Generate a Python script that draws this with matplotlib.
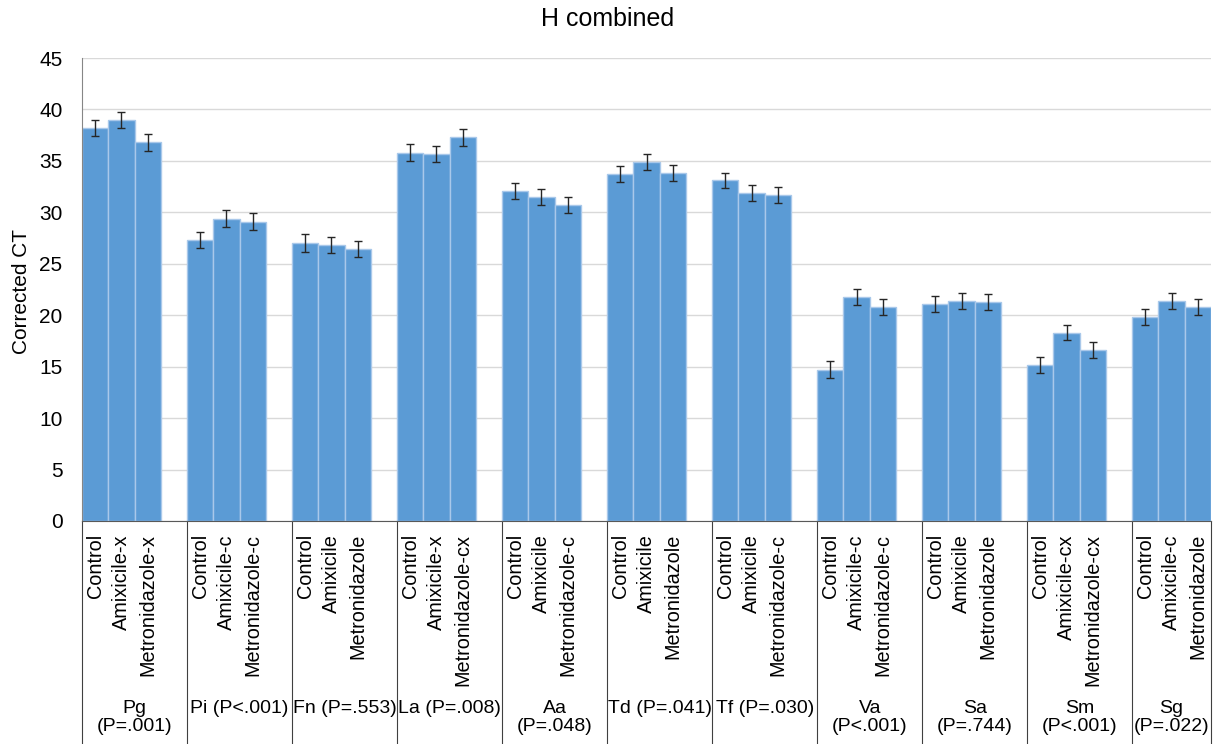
import matplotlib.pyplot as plt
import matplotlib.transforms as mtransforms
from matplotlib.lines import Line2D

plt.rcParams['font.family'] = ['Liberation Sans', 'DejaVu Sans']

# bacteria groups with their P values
groups = ["Pg\n(P=.001)", "Pi (P<.001)", "Fn (P=.553)", "La (P=.008)", "Aa\n(P=.048)",
          "Td (P=.041)", "Tf (P=.030)", "Va\n(P<.001)", "Sa\n(P=.744)", "Sm\n(P<.001)",
          "Sg\n(P=.022)"]

treatments = [
    ["Control", "Amixicile-x", "Metronidazole-x"],
    ["Control", "Amixicile-c", "Metronidazole-c"],
    ["Control", "Amixicile", "Metronidazole"],
    ["Control", "Amixicile-x", "Metronidazole-cx"],
    ["Control", "Amixicile", "Metronidazole-c"],
    ["Control", "Amixicile", "Metronidazole"],
    ["Control", "Amixicile", "Metronidazole-c"],
    ["Control", "Amixicile-c", "Metronidazole-c"],
    ["Control", "Amixicile", "Metronidazole"],
    ["Control", "Amixicile-cx", "Metronidazole-cx"],
    ["Control", "Amixicile-c", "Metronidazole"],
]

ct_values = [
    [38.2, 39.0, 36.8],
    [27.3, 29.4, 29.1],
    [27.0, 26.8, 26.4],
    [35.8, 35.7, 37.3],
    [32.1, 31.5, 30.7],
    [33.7, 34.9, 33.8],
    [33.1, 31.9, 31.7],
    [14.7, 21.8, 20.8],
    [21.1, 21.4, 21.3],
    [15.2, 18.3, 16.6],
    [19.8, 21.4, 20.8],
]

ct_err = [
    [0.75, 0.80, 0.80],
    [0.80, 0.78, 0.80],
    [0.85, 0.80, 0.78],
    [0.82, 0.78, 0.82],
    [0.78, 0.80, 0.80],
    [0.80, 0.78, 0.80],
    [0.76, 0.78, 0.80],
    [0.82, 0.76, 0.76],
    [0.76, 0.80, 0.80],
    [0.78, 0.75, 0.78],
    [0.78, 0.80, 0.78],
]

fig = plt.figure(figsize=(12.21, 7.44), dpi=100)
ax = fig.add_axes([82 / 1221, 223 / 744, 1129 / 1221, 463 / 744])

xs, hs, es, labels = [], [], [], []
for i in range(len(groups)):
    for j in range(3):
        xs.append(4 * i + j + 0.5)
        hs.append(ct_values[i][j])
        es.append(ct_err[i][j])
        labels.append(treatments[i][j])

ax.bar(xs, hs, width=1.0, color='#5b9bd5', edgecolor='#a9c8ea', linewidth=1, zorder=2)
ax.errorbar(xs, hs, yerr=es, fmt='none', ecolor='#262626', elinewidth=1,
            capsize=3.2, capthick=1, zorder=3)

ax.set_xlim(0, 43)
ax.set_ylim(0, 45)
ax.set_yticks(range(0, 46, 5))
ax.set_xticks([])
ax.tick_params(axis='y', length=0, pad=14, labelsize=15)
ax.yaxis.grid(True, color='#d9d9d9', linewidth=1, zorder=0)
ax.set_axisbelow(True)
for s in ['top', 'right']:
    ax.spines[s].set_visible(False)
ax.spines['left'].set_color('#868686')
ax.spines['bottom'].set_color('#595959')

# two-level category axis below the plot
tr = mtransforms.blended_transform_factory(ax.transData, fig.transFigure)
for x, lab in zip(xs, labels):
    ax.text(x, 1 - 534 / 744, lab, transform=tr, rotation=90, ha='center', va='top',
            fontsize=14.3, clip_on=False)

for i, g in enumerate(groups):
    cx = 4 * i + 2 if i < len(groups) - 1 else 41.5
    ax.text(cx, 1 - 700 / 744, g, transform=tr, ha='center', va='top', fontsize=14,
            linespacing=1.08, clip_on=False)

for b in [0, 4, 8, 12, 16, 20, 24, 28, 32, 36, 40, 43]:
    ax.add_line(Line2D([b, b], [0, 223 / 744], transform=tr, color='#404040',
                       linewidth=0.8, clip_on=False))

fig.text(22 / 1221, 1 - 291 / 744, 'Corrected CT', rotation=90, ha='center', va='center',
         fontsize=15)
fig.text(608 / 1221, 1 - 19 / 744, 'H combined', ha='center', va='center', fontsize=18)

fig.savefig('out.png', dpi=100)
